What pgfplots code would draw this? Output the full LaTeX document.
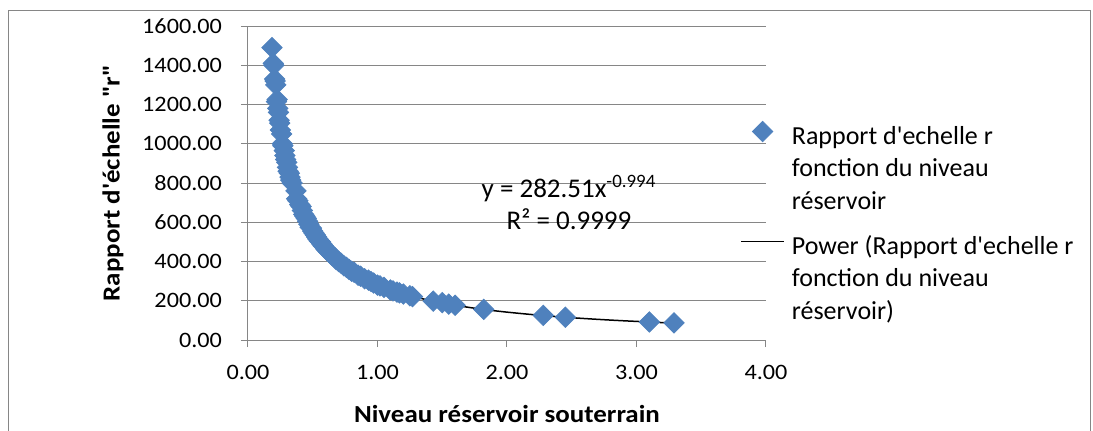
\documentclass[border=0pt]{standalone}
\usepackage{fontspec}
\setmainfont{Carlito}[FakeStretch=1.1,Ligatures=TeXOff]
\newfontfamily\plainfont{Carlito}[Ligatures=TeXOff]
\usepackage{pgfplots}
\pgfplotsset{compat=1.18}
\definecolor{xlblue}{HTML}{4F81BD}
\definecolor{xlgrid}{HTML}{868686}

\begin{document}
\begin{tikzpicture}
\useasboundingbox (-124pt,-45pt) rectangle (422.5pt,170pt);
% chart frame (bottom edge is cut off in the reference)
\draw[xlgrid,line width=0.5pt] (-119.5pt,-60pt) -- (-119.5pt,165pt) -- (421pt,165pt) -- (421pt,-60pt);
\begin{axis}[at={(0,0)},anchor=origin,scale only axis,width=259pt,height=157pt,
  xmin=0,xmax=4,ymin=0,ymax=1600,
  xtick={0,1,2,3,4},ytick={0,200,...,1600},
  axis x line*=bottom,axis y line*=left,
  x axis line style={-},y axis line style={-},
  axis line style={xlgrid,line width=0.5pt},
  tick align=outside,major tick length=3.5pt,
  tick style={xlgrid,line width=0.5pt},
  ymajorgrids,grid style={xlgrid,line width=0.5pt},
  scaled ticks=false,
  tick label style={font=\fontsize{11}{13}\selectfont},
  /pgf/number format/fixed,/pgf/number format/fixed zerofill,
  /pgf/number format/precision=2,/pgf/number format/1000 sep={},
  /pgf/number format/assume math mode=true,
  xticklabel style={yshift=-5.5pt},
  yticklabel style={xshift=-6pt},
  xlabel={Niveau réservoir souterrain},
  ylabel={Rapport d'échelle "r"},
  label style={font=\fontsize{12.25}{14}\selectfont\bfseries},
  xlabel style={at={(axis description cs:0.5,-0.2357)},anchor=center},
  ylabel style={at={(axis description cs:-0.2606,0.5)},anchor=center},
  legend style={at={(axis description cs:0.9498,0.6975)},anchor=north west,
    draw=none,fill=none,inner sep=0pt,column sep=3.5pt,row sep=0pt,
    font=\plainfont\fontsize{13}{16}\selectfont,
    nodes={inner sep=0pt,text height=11pt,text depth=5.25pt}},
  legend cell align=left,
  legend image code/.code={\draw[mark repeat=2,mark phase=2,yshift=3.5pt]
    plot coordinates {(0pt,0pt)(10.75pt,0pt)(21.5pt,0pt)};},
]

\addplot[only marks,mark=square*,mark size=3.6pt,
  mark options={rotate=45,fill=xlblue,draw=xlblue}] table {
x y
0.185 1490
0.195 1410
0.200 1400
0.205 1330
0.210 1320
0.215 1300
0.220 1215
0.225 1225
0.230 1180
0.235 1160
0.240 1120
0.245 1105
0.250 1070
0.260 1050
0.265 1000
0.270 990
0.280 965
0.285 940
0.290 920
0.300 905
0.305 880
0.310 860
0.320 850
0.325 830
0.330 815
0.340 800
0.370 760
0.375 720
0.385 710
0.400 690
0.410 680
0.420 660
0.430 640
0.440 630
0.450 620
0.460 605
0.470 590
0.480 575
0.490 570
0.500 555
0.510 545
0.520 535
0.530 525
0.540 515
0.550 505
0.560 500
0.570 490
0.580 480
0.600 465
0.610 458
0.620 450
0.640 440
0.650 430
0.670 420
0.680 410
0.700 400
0.720 390
0.740 378
0.760 370
0.780 360
0.800 350
0.820 345
0.850 330
0.870 325
0.900 312
0.930 305
0.950 298
0.970 290
1.000 280
1.020 276
1.050 268
1.100 255
1.120 250
1.150 244
1.170 240
1.200 234
1.250 225
1.270 221
1.430 198
1.500 190
1.550 183
1.600 177
1.820 156
2.280 125
2.450 116
3.100 92
3.290 87
};
\addlegendentry{Rapport d'echelle r}
\addlegendimage{empty legend}\addlegendentry{fonction du niveau}
\addlegendimage{empty legend}\addlegendentry[text depth=11.5pt]{réservoir}

% power trendline y = 282.51 x^-0.994
\addplot[black,line width=0.75pt,smooth,no marks] coordinates {
(0.19,1472)(0.20,1399)(0.21,1333)(0.22,1272)(0.23,1217)(0.24,1167)
(0.25,1121)(0.27,1038)(0.29,967)(0.31,905)(0.33,850)(0.35,802)
(0.38,739)(0.41,685)(0.44,639)(0.47,598)(0.50,563)(0.55,512)
(0.60,469)(0.65,434)(0.70,403)(0.80,353)(0.90,314)(1.00,282.5)
(1.10,257)(1.20,236)(1.40,202)(1.60,177)(1.80,157.5)(2.00,142)
(2.30,123.4)(2.60,109.3)(2.90,98)(3.29,86)};
\addlegendentry{Power (Rapport d'echelle r}
\addlegendimage{empty legend}\addlegendentry{fonction du niveau}
\addlegendimage{empty legend}\addlegendentry{réservoir)}

\node[anchor=base,font=\plainfont\fontsize{13.5}{16}\selectfont] at (axis cs:2.479,723.6)
  {y = 282.51x\textsuperscript{-0.994}};
\node[anchor=base,font=\plainfont\fontsize{13.5}{16}\selectfont] at (axis cs:2.479,565.6)
  {R² = 0.9999};
\end{axis}
\end{tikzpicture}
\end{document}
